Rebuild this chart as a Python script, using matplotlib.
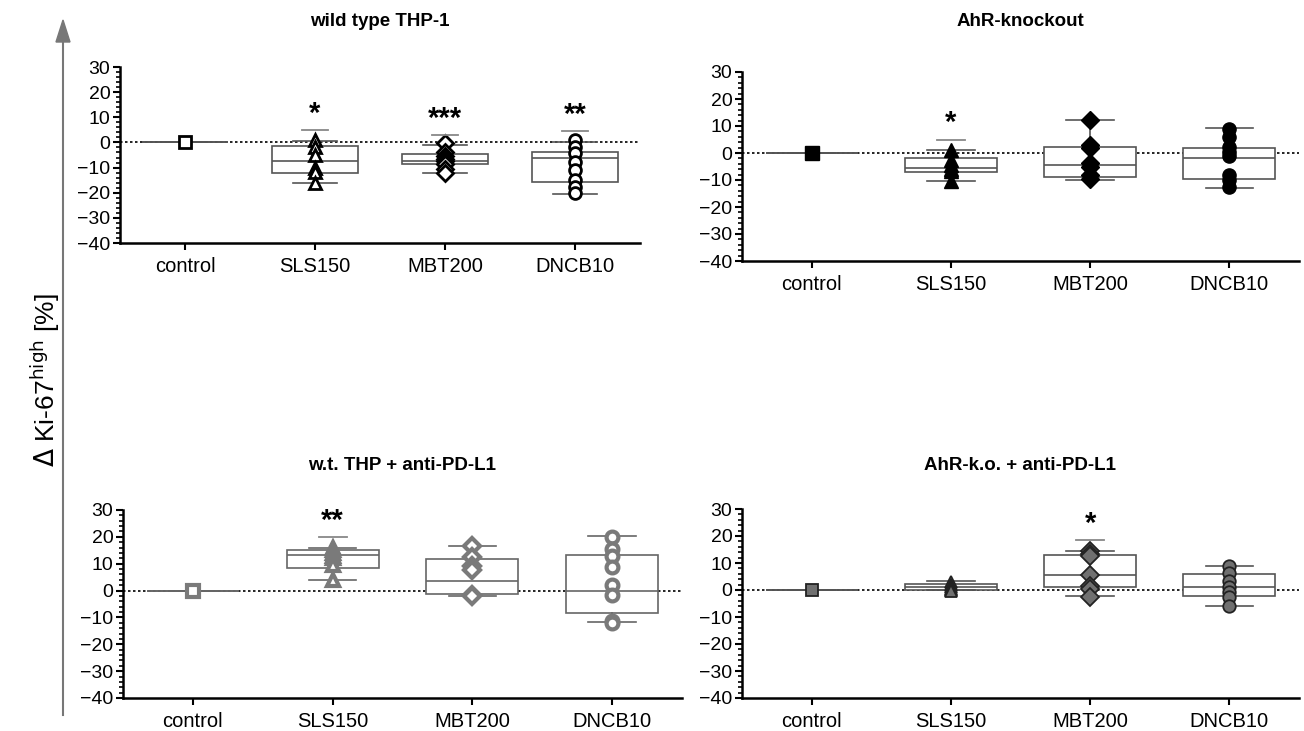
import numpy as np
import matplotlib.pyplot as plt
from matplotlib.ticker import MultipleLocator

plt.rcParams['font.family'] = ['Liberation Sans', 'DejaVu Sans']

categories = ['control', 'SLS150', 'MBT200', 'DNCB10']
markers = ['s', '^', 'D', 'o']

# wild type THP-1
wt_q1 = [0, -12.2, -8.5, -15.9]
wt_med = [0, -7.4, -7.4, -6.3]
wt_q3 = [0, -1.3, -4.7, -3.7]
wt_lo = [0, -16.0, -12.3, -20.6]
wt_hi = [0, 0.7, -1.0, 0.3]
wt_pts = [[0],
          [1.0, -1.7, -5.0, -10.3, -11.7, -16.3],
          [-0.4, -4.0, -5.5, -6.5, -7.5, -8.5, -10.5, -12.0],
          [1.0, -1.7, -4.4, -7.7, -11.0, -15.0, -17.6, -20.3]]
wt_sig = ['', '*', '***', '**']
wt_sig_y = [0, 5.0, 3.0, 4.5]

# AhR-knockout
ko_q1 = [0, -7.1, -8.8, -9.6]
ko_med = [0, -5.7, -4.4, -2.0]
ko_q3 = [0, -2.0, 2.3, 1.7]
ko_lo = [0, -10.4, -10.0, -12.8]
ko_hi = [0, 1.1, 12.2, 9.1]
ko_pts = [[0],
          [1.0, -2.5, -4.5, -6.0, -6.5, -10.5],
          [12.2, 3.0, 2.0, -3.8, -5.0, -8.1, -9.6],
          [9.0, 6.0, 2.3, 0.5, -1.0, -8.0, -10.0, -12.5]]
ko_sig = ['', '*', '', '']
ko_sig_y = [0, 5.0, 0, 0]

# w.t. THP + anti-PD-L1
wtp_q1 = [0, 8.4, -1.1, -8.4]
wtp_med = [0, 13.2, 3.4, -0.2]
wtp_q3 = [0, 15.0, 11.7, 13.2]
wtp_lo = [0, 4.1, -2.0, -11.7]
wtp_hi = [0, 16.0, 16.6, 20.3]
wtp_pts = [[0],
           [16.0, 15.0, 14.0, 13.0, 12.0, 9.5, 4.0],
           [16.5, 12.5, 9.0, 7.8, -1.5, -2.0],
           [20.0, 15.4, 13.0, 8.9, 2.0, -1.5, -11.3, -12.0]]
wtp_sig = ['', '**', '', '']
wtp_sig_y = [0, 20.0, 0, 0]

# AhR-k.o. + anti-PD-L1
kop_q1 = [0, 0.0, 1.0, -2.4]
kop_med = [0, 1.0, 5.6, 1.0]
kop_q3 = [0, 2.4, 12.9, 5.9]
kop_lo = [0, 0.0, -2.3, -6.1]
kop_hi = [0, 3.2, 14.4, 8.9]
kop_pts = [[0],
           [3.0, 2.0, 1.0, 0.5, 0.0, -0.5],
           [14.5, 13.5, 12.5, 5.5, 1.5, 0.5, -2.5],
           [9.0, 6.2, 3.4, 1.0, -0.9, -2.7, -6.0]]
kop_sig = ['', '', '*', '']
kop_sig_y = [0, 0, 18.4, 0]

panels = [
    ('wild type THP-1', wt_q1, wt_med, wt_q3, wt_lo, wt_hi, wt_pts, wt_sig, wt_sig_y,
     'white', 'black', 2.0, 8.5, '#555555', [120, 67, 640, 243], 22),
    ('AhR-knockout', ko_q1, ko_med, ko_q3, ko_lo, ko_hi, ko_pts, ko_sig, ko_sig_y,
     'black', 'black', 1.0, 9.5, '#555555', [742, 72, 1299, 261], 22),
    ('w.t. THP + anti-PD-L1', wtp_q1, wtp_med, wtp_q3, wtp_lo, wtp_hi, wtp_pts, wtp_sig, wtp_sig_y,
     'white', '#7a7a7a', 3.0, 8.5, '#666666', [123, 510, 682, 698], 465),
    ('AhR-k.o. + anti-PD-L1', kop_q1, kop_med, kop_q3, kop_lo, kop_hi, kop_pts, kop_sig, kop_sig_y,
     '#707070', '#222222', 1.3, 9.0, '#555555', [742, 509, 1299, 698], 465),
]

W, H = 1304, 731
fig = plt.figure(figsize=(W / 100, H / 100), dpi=100)

for (title, q1, med, q3, lo, hi, pts, sig, sig_y, fc, ec, mew, msz, boxc, box, ty) in panels:
    x0, y0, x1, y1 = box
    ax = fig.add_axes([x0 / W, (H - y1) / H, (x1 - x0) / W, (y1 - y0) / H])
    ax.axhline(0, ls=(0, (1.5, 1.5)), color='black', lw=1.2, zorder=1)
    stats = [dict(q1=q1[i], med=med[i], q3=q3[i], whislo=lo[i], whishi=hi[i], fliers=[])
             for i in range(len(categories))]
    ax.bxp(stats, positions=range(len(categories)), widths=0.66, capwidths=0.34,
           patch_artist=True, showfliers=False,
           boxprops=dict(facecolor='white', edgecolor=boxc, lw=1.2),
           medianprops=dict(color=boxc, lw=1.2),
           whiskerprops=dict(color=boxc, lw=1.2),
           capprops=dict(color=boxc, lw=1.2), zorder=2)
    for i, vals in enumerate(pts):
        ms = msz + (1 if i == 0 and fc == 'black' else 0)
        ax.plot(np.full(len(vals), i), vals, ls='none', marker=markers[i], ms=ms,
                mfc=fc, mec=ec, mew=mew, zorder=3, clip_on=False)
        if sig[i]:
            ax.plot([i - 0.1, i + 0.1], [sig_y[i], sig_y[i]], color='#888888', lw=1.3, zorder=3)
            ax.text(i, sig_y[i] + 0.8, sig[i], ha='center', va='bottom',
                    fontsize=21, fontweight='bold')
    ax.set_xlim(-0.5, len(categories) - 0.5)
    ax.set_ylim(-40, 30)
    ax.yaxis.set_major_locator(MultipleLocator(10))
    ax.yaxis.set_minor_locator(MultipleLocator(2))
    ax.set_xticks(range(len(categories)))
    ax.set_xticklabels(categories)
    ax.tick_params(axis='x', length=5, width=1.5, labelsize=14.5, pad=5)
    ax.tick_params(axis='y', which='major', length=5, width=1.5, labelsize=14, pad=2)
    ax.tick_params(axis='y', which='minor', length=3, width=1.2)
    for s in ['top', 'right']:
        ax.spines[s].set_visible(False)
    for s in ['left', 'bottom']:
        ax.spines[s].set_linewidth(1.8)
    fig.text((x0 + x1) / 2 / W, (H - ty) / H, title, ha='center', va='center',
             fontsize=13.5, fontweight='bold')

# y-axis arrow and shared label
fig.add_artist(plt.Line2D([63 / W, 63 / W], [(H - 715) / H, (H - 40) / H], color='#777777', lw=1.5))
fig.patches.append(plt.Polygon([[56 / W, (H - 42) / H], [70 / W, (H - 42) / H], [63 / W, (H - 20) / H]],
                               closed=True, color='#777777', transform=fig.transFigure, figure=fig))
fig.text(45 / W, (H - 380) / H, r'$\Delta$ Ki-67$^{\mathrm{high}}$ [%]', rotation=90,
         ha='center', va='center', fontsize=19)

fig.savefig('out.png', dpi=100)
